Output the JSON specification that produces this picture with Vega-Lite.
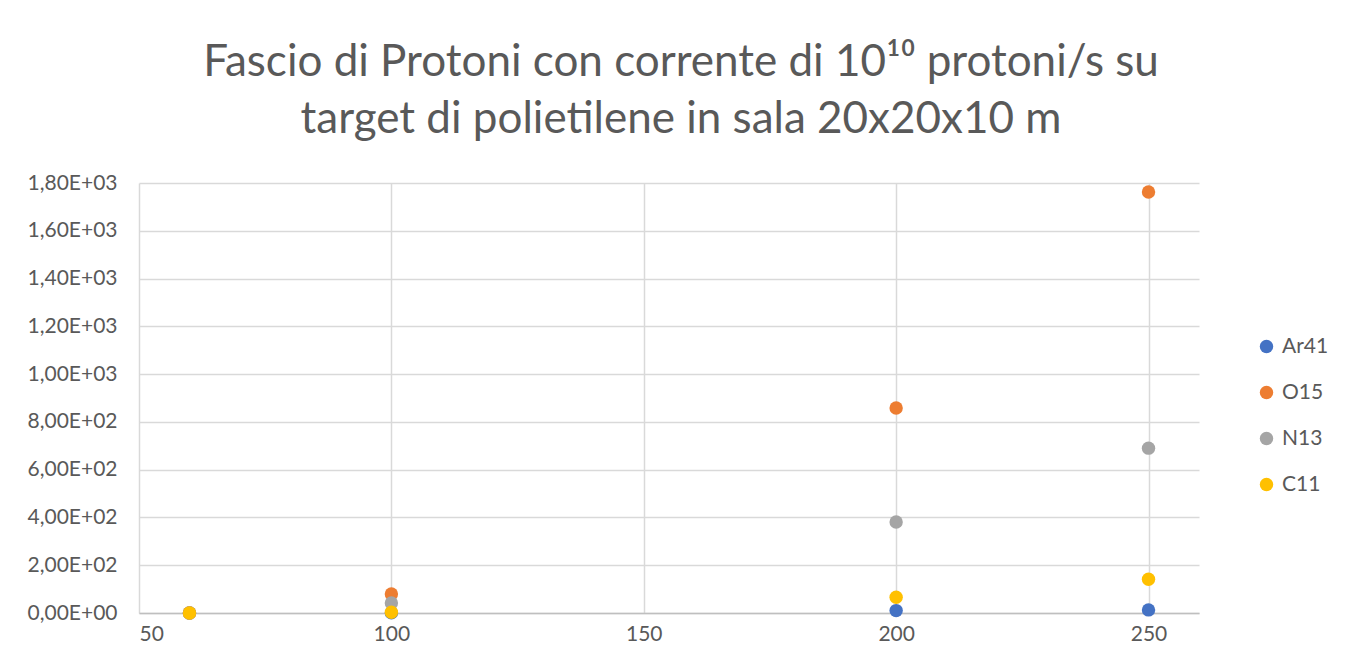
{
  "$schema": "https://vega.github.io/schema/vega-lite/v6.json",
  "width": 1060,
  "height": 430,
  "autosize": {"type": "none"},
  "padding": {"left": 139, "top": 183, "right": 147, "bottom": 56},
  "background": "white",
  "title": {
    "text": ["Fascio di Protoni con corrente di 10¹⁰ protoni/s su", "target di polietilene in sala 20x20x10 m"],
    "font": "Lato",
    "fontSize": 44,
    "fontWeight": "normal",
    "color": "#595959",
    "lineHeight": 57,
    "anchor": "middle",
    "offset": 30,
    "dx": 12
  },
  "data": {
    "values": [
      {"energia": 60, "valore": 0, "serie": "Ar41"},
      {"energia": 100, "valore": 0.5, "serie": "Ar41"},
      {"energia": 200, "valore": 10, "serie": "Ar41"},
      {"energia": 250, "valore": 13, "serie": "Ar41"},
      {"energia": 60, "valore": 0, "serie": "O15"},
      {"energia": 100, "valore": 80, "serie": "O15"},
      {"energia": 200, "valore": 858, "serie": "O15"},
      {"energia": 250, "valore": 1762, "serie": "O15"},
      {"energia": 60, "valore": 0, "serie": "N13"},
      {"energia": 100, "valore": 42, "serie": "N13"},
      {"energia": 200, "valore": 381, "serie": "N13"},
      {"energia": 250, "valore": 690, "serie": "N13"},
      {"energia": 60, "valore": 0, "serie": "C11"},
      {"energia": 100, "valore": 3, "serie": "C11"},
      {"energia": 200, "valore": 66, "serie": "C11"},
      {"energia": 250, "valore": 141, "serie": "C11"}
    ]
  },
  "mark": {"type": "point", "shape": "circle", "filled": true, "opacity": 1, "size": 180},
  "encoding": {
    "x": {
      "field": "energia",
      "type": "quantitative",
      "scale": {"domain": [50, 260], "nice": false, "zero": false},
      "axis": {
        "title": null,
        "values": [50, 100, 150, 200, 250],
        "grid": true,
        "gridColor": "#d9d9d9",
        "gridWidth": 1.5,
        "ticks": false,
        "domain": true,
        "domainColor": "#bfbfbf",
        "domainWidth": 1.5,
        "labelFont": "Lato",
        "labelFontSize": 21,
        "labelColor": "#595959",
        "labelPadding": 10
      }
    },
    "y": {
      "field": "valore",
      "type": "quantitative",
      "scale": {"domain": [0, 1800], "nice": false},
      "axis": {
        "title": null,
        "values": [0, 200, 400, 600, 800, 1000, 1200, 1400, 1600, 1800],
        "grid": true,
        "gridColor": "#d9d9d9",
        "gridWidth": 1.5,
        "ticks": false,
        "domain": false,
        "labelFont": "Lato",
        "labelFontSize": 21,
        "labelColor": "#595959",
        "labelPadding": 22,
        "labelExpr": "datum.value == 0 ? '0,00E+00' : replace(format(datum.value / pow(10, floor(log(datum.value) / LN10 + 1e-9)), '.2f'), '.', ',') + 'E+0' + floor(log(datum.value) / LN10 + 1e-9)"
      }
    },
    "color": {
      "field": "serie",
      "type": "nominal",
      "sort": ["Ar41", "O15", "N13", "C11"],
      "scale": {"domain": ["Ar41", "O15", "N13", "C11"], "range": ["#4472C4", "#ED7D31", "#A5A5A5", "#FFC000"]},
      "legend": {
        "title": null,
        "orient": "none",
        "legendX": 1117,
        "legendY": 153,
        "symbolType": "circle",
        "symbolSize": 180,
        "symbolStrokeWidth": 0,
        "labelFont": "Lato",
        "labelFontSize": 21,
        "labelColor": "#595959",
        "labelOffset": 5,
        "rowPadding": 24
      }
    }
  },
  "config": {"view": {"stroke": null}}
}
